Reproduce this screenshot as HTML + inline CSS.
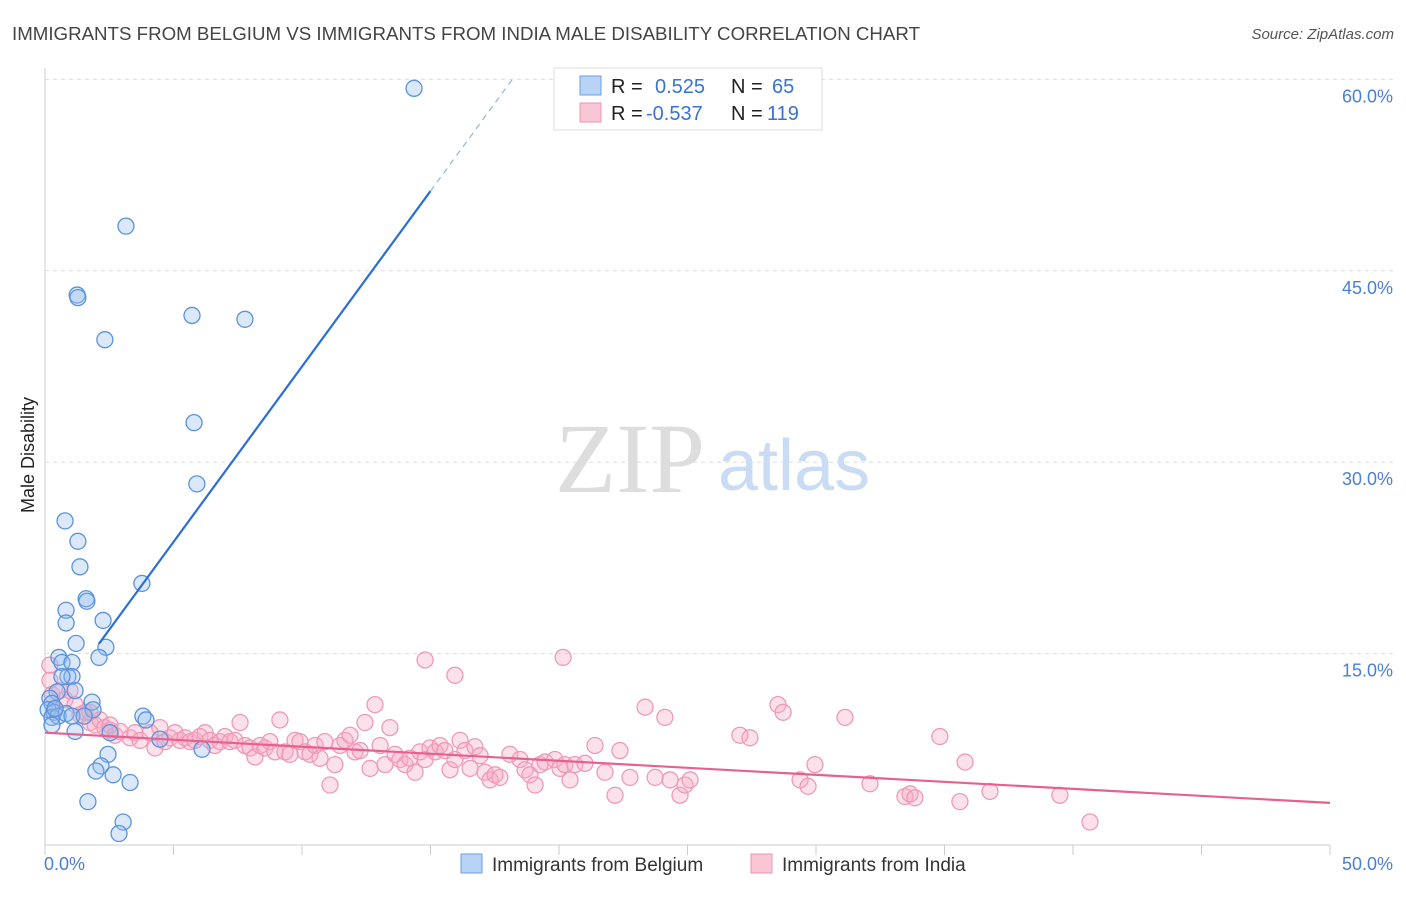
<!DOCTYPE html>
<html><head><meta charset="utf-8"><style>
body{margin:0;background:#fff;font-family:"Liberation Sans",sans-serif;}
svg text{font-family:"Liberation Sans",sans-serif;}
</style></head><body>
<svg id="chart" width="1406" height="892">
<text x="12" y="40" font-size="18.5" fill="#444" textLength="908" lengthAdjust="spacingAndGlyphs">IMMIGRANTS FROM BELGIUM VS IMMIGRANTS FROM INDIA MALE DISABILITY CORRELATION CHART</text>
<text x="1394" y="39" font-size="15" fill="#555" font-style="italic" text-anchor="end">Source: ZipAtlas.com</text>
<text transform="translate(34,455) rotate(-90)" font-size="18" fill="#222" text-anchor="middle">Male Disability</text>
<g id="grid"></g>
<text x="555" y="492" font-size="100" fill="#ddd" style="font-family:'Liberation Serif',serif">ZIP</text>
<text x="718" y="490" font-size="72" fill="#c9dcf3">atlas</text>
<g id="marks"></g>
<g>
<rect x="554" y="68" width="268" height="62" fill="#fff" stroke="#ddd"/>
<rect x="580" y="76" width="21" height="19" fill="#b8d3f5" stroke="#6a9fe0"/>
<rect x="580" y="103" width="21" height="19" fill="#f9c6d6" stroke="#ec93b0"/>
<text x="611" y="93" font-size="20" fill="#222">R =</text>
<text x="655" y="93" font-size="20" fill="#3a72d0">0.525</text>
<text x="731" y="93" font-size="20" fill="#222">N =</text>
<text x="772" y="93" font-size="20" fill="#3a72d0">65</text>
<text x="611" y="120" font-size="20" fill="#222">R =</text>
<text x="646" y="120" font-size="20" fill="#3a72d0">-0.537</text>
<text x="731" y="120" font-size="20" fill="#222">N =</text>
<text x="767" y="120" font-size="20" fill="#3a72d0">119</text>
</g>
<g>
<rect x="461" y="854" width="21" height="19" fill="#b8d3f5" stroke="#6a9fe0"/>
<text x="492" y="871" font-size="19" fill="#333">Immigrants from Belgium</text>
<rect x="751" y="854" width="21" height="19" fill="#f9c6d6" stroke="#ec93b0"/>
<text x="782" y="871" font-size="19" fill="#333">Immigrants from India</text>
</g>
</svg>
<script>
const xTickLabels=["0.0%","50.0%"];
const yTicks=[15,30,45,60];
const yTickLabels=["15.0%","30.0%","45.0%","60.0%"];
const blueX=[14.36,3.15,1.25,1.28,2.33,5.72,7.78,5.80,5.91,0.78,1.28,1.36,3.77,1.60,1.63,0.82,0.82,2.26,1.21,2.37,2.10,0.54,0.66,1.05,0.89,1.05,0.66,1.17,1.83,0.47,0.19,0.27,0.12,0.35,0.27,0.51,0.82,1.05,1.87,3.81,3.93,0.27,1.17,2.53,4.47,6.11,2.45,2.18,1.98,2.65,3.31,1.67,3.04,2.88,0.39,1.52];
const blueY=[59.3,48.5,43.1,42.9,39.6,41.5,41.2,33.1,28.3,25.4,23.8,21.8,20.5,19.3,19.1,18.4,17.4,17.6,15.8,15.5,14.7,14.7,14.3,14.3,13.2,13.2,13.2,12.1,11.2,12.0,11.5,11.1,10.6,10.4,10.0,10.1,10.3,10.1,10.6,10.1,9.8,9.4,8.9,8.8,8.3,7.5,7.1,6.2,5.8,5.5,4.9,3.4,1.8,0.9,10.7,10.1];
const pinkX=[0.19,0.19,0.27,0.39,0.58,0.78,0.97,1.17,1.36,1.56,1.75,1.95,2.14,2.33,2.53,2.72,2.92,3.31,3.50,3.70,4.09,4.28,4.47,4.67,4.86,5.06,5.25,5.45,5.64,5.84,6.03,6.23,6.42,6.61,6.81,7.00,7.20,7.39,7.59,7.78,7.98,8.17,8.37,8.56,8.75,8.95,9.14,9.34,9.53,9.73,9.92,10.12,10.31,10.51,10.70,10.89,11.09,11.28,11.48,11.67,11.87,12.06,12.26,12.45,12.65,12.84,13.04,13.23,13.42,13.62,13.81,14.01,14.20,14.40,14.59,14.79,14.98,15.18,15.37,15.56,15.76,15.95,16.15,16.34,16.54,16.73,16.93,17.12,17.32,17.51,17.70,18.09,18.48,18.68,18.87,19.07,19.26,19.46,19.84,20.04,20.23,20.43,20.62,21.01,21.40,21.79,22.18,22.37,22.76,23.35,23.74,24.12,24.32,24.71,24.90,25.10,27.04,27.43,28.52,28.72,29.38,29.69,29.96,31.13,32.10,33.46,33.66,33.85,34.82,35.60,35.80,36.77,39.49,40.66,14.79,15.95,20.16,1.75,2.53];
const pinkY=[14.1,12.9,11.8,10.6,12.1,11.4,12.1,11.0,10.2,10.4,9.6,9.4,9.8,9.2,9.0,8.6,8.9,8.4,8.8,8.2,8.8,7.6,9.2,8.1,8.4,8.8,8.2,8.4,8.1,8.2,8.5,8.8,8.2,7.8,8.1,8.5,8.1,8.2,9.6,7.8,7.6,6.9,7.8,7.6,8.1,7.3,9.8,7.3,7.1,8.2,8.1,7.3,7.1,7.8,6.8,8.1,4.7,6.3,7.8,8.2,8.6,7.3,7.4,9.6,6.0,11.0,7.8,6.3,9.2,7.1,6.7,6.3,6.8,5.7,7.3,6.7,7.6,7.3,7.8,7.4,5.9,6.7,8.2,7.4,6.0,7.7,7.0,5.7,5.1,5.5,5.3,7.1,6.7,5.9,5.5,4.7,6.3,6.5,6.7,6.0,6.3,5.1,6.3,6.4,7.8,5.7,3.9,7.4,5.3,10.8,5.3,10.0,5.1,3.9,4.7,5.1,8.6,8.4,11.0,10.4,5.1,4.6,6.3,10.0,4.8,3.8,4.0,3.7,8.5,3.4,6.5,4.2,3.9,1.8,14.5,13.3,14.7,10.4,9.4];
const blueFit=[10.0,2.75];
const pinkFit=[8.8,-0.11];
const X0=45,X1=1330,Y0=845,YS=12.76;
const sx=v=>X0+(X1-X0)*v/50;
const sy=v=>Y0-v*YS;
const NS="http://www.w3.org/2000/svg";
function mk(tag,attrs,parent){const e=document.createElementNS(NS,tag);for(const k in attrs)e.setAttribute(k,attrs[k]);parent.appendChild(e);return e;}
const grid=document.getElementById('grid');
const marks=document.getElementById('marks');
let ax=mk('line',{x1:X0,y1:68,x2:X0,y2:Y0,stroke:'#ccc'},grid);


let bx=mk('line',{x1:X0,y1:Y0,x2:X1,y2:Y0,stroke:'#ccc'},grid);


for(let i=0;i<=10;i++){const t=mk('line',{x1:sx(i*5),y1:Y0,x2:sx(i*5),y2:Y0+10,stroke:'#ccc'},grid);

}
yTicks.forEach((v,i)=>{const g=mk('line',{x1:X0,y1:sy(v),x2:1394,y2:sy(v),stroke:'#ddd','stroke-dasharray':'4,4'},grid);


const t=mk('text',{x:1393,y:sy(v)+23,'font-size':18,fill:'#4a7fd4','text-anchor':'end'},grid);t.textContent=yTickLabels[i];

});
[[0,'start',44],[50,'end',1393]].forEach((a,i)=>{const t=mk('text',{x:a[2],y:870,'font-size':18,fill:'#4a7fd4','text-anchor':a[1]},grid);t.textContent=xTickLabels[i];

});
pinkX.forEach((x,i)=>{const c=mk('circle',{cx:sx(x),cy:sy(pinkY[i]),r:8,fill:'rgba(245,170,195,0.35)',stroke:'#ee9ab7','stroke-width':1.3},marks);

});
blueX.forEach((x,i)=>{const c=mk('circle',{cx:sx(x),cy:sy(blueY[i]),r:8,fill:'rgba(150,190,240,0.35)',stroke:'#5a93dc','stroke-width':1.3},marks);

});
const bf=x=>blueFit[0]+blueFit[1]*x;
let l1=mk('line',{x1:sx(2.1),y1:sy(bf(2.1)),x2:sx(15),y2:sy(bf(15)),stroke:'#2a6fd6','stroke-width':2.2},marks);


let l2=mk('line',{x1:sx(15),y1:sy(bf(15)),x2:sx(18.2),y2:sy(bf(18.2)),stroke:'#8fb3e6','stroke-width':1.2,'stroke-dasharray':'6,5'},marks);


const pf=x=>pinkFit[0]+pinkFit[1]*x;
let l3=mk('line',{x1:sx(0),y1:sy(pf(0)),x2:sx(50),y2:sy(pf(50)),stroke:'#e8608e','stroke-width':2.2},marks);


</script>
</body></html>
